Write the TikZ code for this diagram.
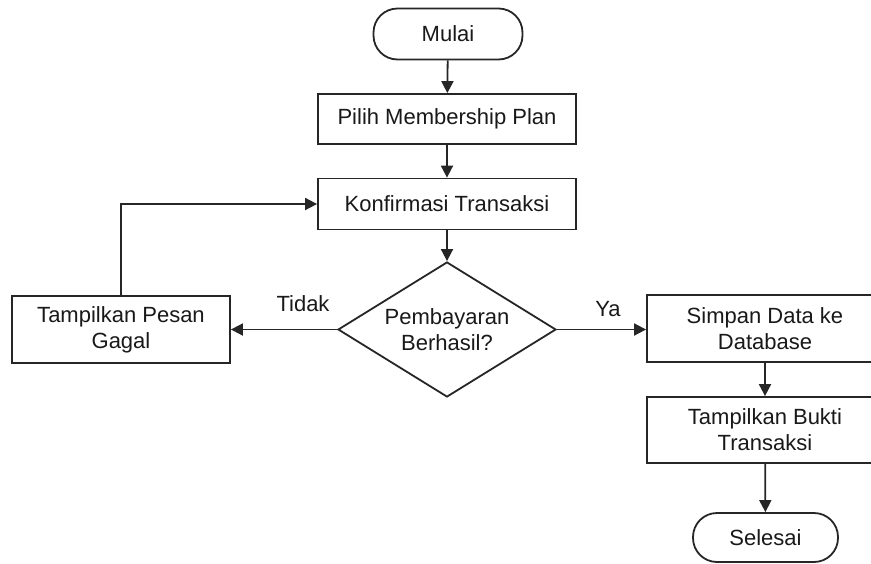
\documentclass[tikz,border=0pt]{standalone}
\usepackage{fontspec}
\setmainfont{Liberation Sans}
\usetikzlibrary{shapes.geometric,arrows.meta}
\begin{document}
\begin{tikzpicture}[x=1pt,y=-1pt,
  every node/.style={font=\fontsize{22}{26}\selectfont, align=center, text=black!90},
  base/.style={draw=black!85, line width=1.8pt, fill=white, inner sep=0pt},
  procbox/.style={base, rectangle},
  termbox/.style={base, rectangle, rounded corners=24pt},
  decbox/.style={base, diamond},
  flow/.style={draw=black!85, line width=1.8pt, -{Triangle[length=12pt,width=12pt]}},
  lbl/.style={inner sep=0pt}]
  \useasboundingbox (0,0) rectangle (871,563);

  % start / end
  \node[termbox, minimum width=149pt, minimum height=51pt] (mulai) at (448,34) {Mulai};
  \node[termbox, minimum width=145pt, minimum height=49pt] (selesai) at (765.5,537.5) {Selesai};

  % main column
  \node[procbox, minimum width=258pt, minimum height=50pt] (pilih) at (447,119) {Pilih Membership Plan};
  \node[procbox, minimum width=258pt, minimum height=51pt] (konf) at (447,204) {Konfirmasi Transaksi};
  \node[decbox, minimum width=218pt, minimum height=135pt] (dec) at (447,329.5) {};
  \node[lbl] (dectext) at (dec.center) {Pembayaran\\Berhasil?};

  % branches
  \node[procbox, minimum width=218pt, minimum height=67pt] (gagal) at (121,329.5) {Tampilkan Pesan\\Gagal};
  \node[procbox, minimum width=236pt, minimum height=67pt] (simpan) at (765,328.5) {Simpan Data ke\\Database};
  \node[procbox, minimum width=236pt, minimum height=66pt] (bukti) at (765,430) {Tampilkan Bukti\\Transaksi};

  % connectors
  \draw[flow] (mulai) -- (pilih);
  \draw[flow] (pilih) -- (konf);
  \draw[flow] (konf) -- (dec);
  \draw[flow] (dec.west) -- (gagal.east);
  \draw[flow] (dec.east) -- (simpan.west |- dec.east);
  \draw[flow] (simpan) -- (bukti);
  \draw[flow] (bukti) -- (selesai);
  \draw[flow] (gagal.north) |- (konf.west);

  % branch labels
  \node[lbl] (tidak) at (303,304) {Tidak};
  \node[lbl] (ya) at (608,309) {Ya};
\end{tikzpicture}
\end{document}
